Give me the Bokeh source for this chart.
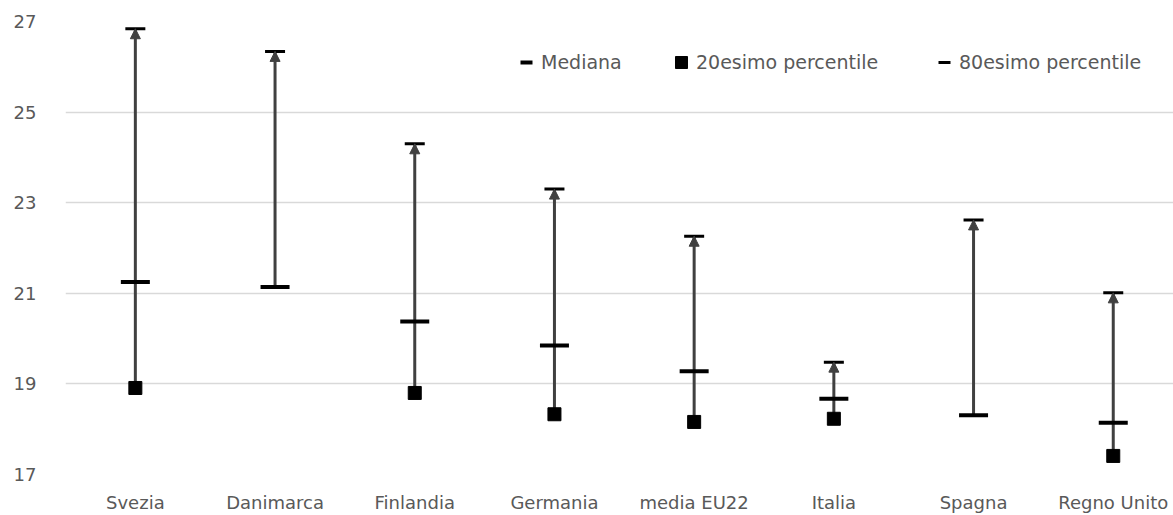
from bokeh.plotting import figure
from bokeh.models import (Range1d, FixedTicker, Legend, LegendItem, Arrow,
                          NormalHead, ColumnDataSource)
from bokeh.embed import file_html
from bokeh.resources import INLINE

nan = float("nan")

categories = ["Svezia", "Danimarca", "Finlandia", "Germania", "media EU22",
              "Italia", "Spagna", "Regno Unito"]
mediana = [21.25, 21.14, 20.38, 19.85, 19.28, 18.67, 18.31, 18.14]
p20 = [18.91, nan, 18.80, 18.33, 18.16, 18.23, nan, 17.41]
p80 = [26.84, 26.34, 24.30, 23.30, 22.26, 19.48, 22.62, 21.01]
y_ticks = [17, 19, 21, 23, 25, 27]

FONT = "DejaVu Sans"
TXT = "#595959"

xs = list(range(len(categories)))
low = [m if (v != v) else min(m, v) for m, v in zip(mediana, p20)]

src = ColumnDataSource(dict(x=xs, med=mediana, p20=p20, p80=p80, low=low))

p = figure(width=1173, height=515, output_backend="svg", toolbar_location=None,
           x_range=Range1d(-0.5, -0.5 + 1108 / 139.7), y_range=Range1d(17, 27))
p.min_border_left = 65
p.min_border_right = 0
p.min_border_top = 21
p.min_border_bottom = 41
p.outline_line_color = None
p.background_fill_color = "white"
p.border_fill_color = "white"

# axes
p.xaxis.ticker = FixedTicker(ticks=xs)
p.xaxis.major_label_overrides = {i: c for i, c in enumerate(categories)}
p.yaxis.ticker = FixedTicker(ticks=y_ticks)
for ax in (p.xaxis[0], p.yaxis[0]):
    ax.axis_line_color = None
    ax.major_tick_line_color = None
    ax.minor_tick_line_color = None
    ax.major_tick_out = 0
    ax.major_tick_in = 0
    ax.major_label_text_font = FONT
    ax.major_label_text_font_size = "18px"
    ax.major_label_text_color = TXT
p.yaxis.major_label_standoff = 29
p.xaxis.major_label_standoff = 17

p.xgrid.visible = False
p.ygrid.ticker = FixedTicker(ticks=y_ticks)
p.ygrid.grid_line_color = "#d9d9d9"
p.ygrid.grid_line_width = 1.3

# vertical connecting lines
p.segment(x0="x", y0="low", x1="x", y1="p80", source=src,
          line_color="#404040", line_width=3)
# arrow heads at the top
p.add_layout(Arrow(end=NormalHead(size=10, fill_color="#404040", line_color="#404040",
                                  line_width=1),
                   x_start="x", y_start="low", x_end="x", y_end="p80",
                   source=src, line_alpha=0))

r_p80 = p.scatter(x="x", y="p80", source=src, marker="dash", size=20,
                  line_width=3, line_color="black")
r_med = p.scatter(x="x", y="med", source=src, marker="dash", size=29,
                  line_width=4, line_color="black")
r_p20 = p.scatter(x="x", y="p20", source=src, marker="square", size=13,
                  fill_color="black", line_color="black")


def make_legend(label, rend, xloc):
    lg = Legend(items=[LegendItem(label=label, renderers=[rend])],
                location=(xloc, 397), orientation="horizontal",
                padding=0, margin=0, spacing=0,
                glyph_width=30, glyph_height=30, label_standoff=-4,
                border_line_alpha=0, background_fill_alpha=0,
                label_text_font=FONT, label_text_font_size="19px",
                label_text_color=TXT)
    p.add_layout(lg, "center")


make_legend("Mediana", r_med, 446)
make_legend("20esimo percentile", r_p20, 601)
make_legend("80esimo percentile", r_p80, 864)

open("out.html", "w").write(file_html(p, INLINE))
